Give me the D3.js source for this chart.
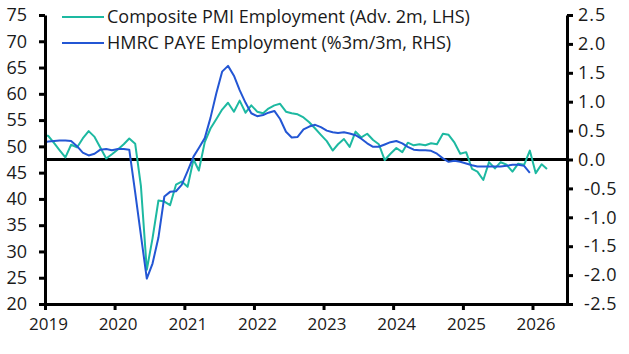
<!DOCTYPE html>
<html>
<head>
<meta charset="utf-8">
<script src="https://cdn.jsdelivr.net/npm/d3@7"></script>
<style>
	body { margin: 0; background: #ffffff; }
	text { font-family: "Open Sans", "Noto Sans", sans-serif; fill: #1a1a1a; }
</style>
</head>
<body>
<div id="chart"></div>
<script>
// UK employment: Composite PMI employment index (LHS) vs HMRC PAYE employees (RHS)

// Both series are monthly; first value is Dec 2018.
var SERIES_START = [2018, 11];

// Composite PMI Employment (Adv. 2m, LHS) - Dec 2018 .. Mar 2026
var pmiValues = [
	52.0,
	52.0, 50.6, 49.3, 47.9, 50.3, 49.8, 51.5, 52.9, 51.8, 49.8, 47.7, 48.5,	// 2019
	49.4, 50.4, 51.5, 50.5, 42.5, 26.5, 32.5, 39.7, 39.5, 38.8, 42.7, 43.3,	// 2020
	42.3, 47.5, 45.4, 50.8, 53.4, 55.2, 57.0, 58.3, 56.6, 58.7, 56.4, 57.8,	// 2021
	56.6, 56.3, 57.2, 57.8, 58.1, 56.6, 56.3, 56.1, 55.5, 54.6, 53.4, 52.2,	// 2022
	51.0, 49.2, 50.4, 51.4, 49.9, 52.8, 51.7, 52.4, 51.2, 50.4, 47.4, 48.6,	// 2023
	49.7, 48.9, 50.7, 50.2, 50.4, 50.2, 50.6, 50.4, 52.4, 52.2, 50.7, 48.6,	// 2024
	48.9, 45.7, 45.2, 43.6, 47.0, 45.8, 47.0, 46.5, 45.2, 46.7, 46.5, 49.2,	// 2025
	44.9, 46.6, 45.7															// 2026
];

// HMRC PAYE Employment (%3m/3m, RHS) - Dec 2018 .. Dec 2025
var payeValues = [
	0.29,
	0.31, 0.32, 0.33, 0.33, 0.32, 0.23, 0.12, 0.07, 0.10, 0.17, 0.18, 0.16,	// 2019
	0.18, 0.18, 0.17, -0.57, -1.31, -2.06, -1.80, -1.35, -0.64, -0.56, -0.55, -0.44,	// 2020
	-0.20, 0.05, 0.20, 0.37, 0.72, 1.15, 1.52, 1.62, 1.45, 1.20, 0.98, 0.80,	// 2021
	0.75, 0.77, 0.81, 0.84, 0.70, 0.48, 0.38, 0.39, 0.52, 0.57, 0.60, 0.56,	// 2022
	0.50, 0.47, 0.46, 0.47, 0.45, 0.42, 0.36, 0.28, 0.22, 0.22, 0.26, 0.30,	// 2023
	0.32, 0.28, 0.22, 0.17, 0.16, 0.16, 0.15, 0.10, 0.02, -0.04, -0.02, -0.04,	// 2024
	-0.07, -0.10, -0.12, -0.12, -0.12, -0.12, -0.12, -0.11, -0.09, -0.09, -0.11, -0.23	// 2025
];

var seriesNames = ["Composite PMI Employment (Adv. 2m, LHS)", "HMRC PAYE Employment (%3m/3m, RHS)"];
var seriesColors = ["#1db9a1", "#2356d4"];

// Tick labels
var xTickYears = [2019, 2020, 2021, 2022, 2023, 2024, 2025, 2026];
var leftTicks = [20, 25, 30, 35, 40, 45, 50, 55, 60, 65, 70, 75];
var rightTicks = [-2.5, -2.0, -1.5, -1.0, -0.5, 0.0, 0.5, 1.0, 1.5, 2.0, 2.5];

var width = 629,
	height = 354;
var plot = { left: 45, right: 567, top: 15, bottom: 304 };

// monthDate: date of the i-th observation (plotted a little past mid-month)
function monthDate(i) {
	return new Date(SERIES_START[0], SERIES_START[1] + i, 18);
}

var svg = d3.select("#chart").append("svg")
	.attr("width", width)
	.attr("height", height);

var x = d3.scaleTime()
	.domain([new Date(2019, 0, 1), new Date(2026, 6, 1)])
	.range([plot.left, plot.right]);
var yLeft = d3.scaleLinear().domain([20, 75]).range([plot.bottom, plot.top]);
var yRight = d3.scaleLinear().domain([-2.5, 2.5]).range([plot.bottom, plot.top]);

svg.append("clipPath").attr("id", "plotClip")
	.append("rect")
	.attr("x", plot.left).attr("y", 0)
	.attr("width", plot.right - plot.left).attr("height", height);

// Zero line of the right hand axis
svg.append("line")
	.attr("x1", plot.left).attr("x2", plot.right)
	.attr("y1", yRight(0)).attr("y2", yRight(0))
	.style("stroke", "#000").style("stroke-width", "3px");

var pmiLine = d3.line()
	.x(function(d, i) { return x(monthDate(i)); })
	.y(function(d) { return yLeft(d); });
var payeLine = d3.line()
	.x(function(d, i) { return x(monthDate(i)); })
	.y(function(d) { return yRight(d); });

var gLines = svg.append("g").attr("clip-path", "url(#plotClip)");
gLines.append("path")
	.attr("d", pmiLine(pmiValues))
	.style("fill", "none")
	.style("stroke", seriesColors[0])
	.style("stroke-width", "2px")
	.style("stroke-linejoin", "round");
gLines.append("path")
	.attr("d", payeLine(payeValues))
	.style("fill", "none")
	.style("stroke", seriesColors[1])
	.style("stroke-width", "2px")
	.style("stroke-linejoin", "round");

// Axes - drawn with d3 axis generators, then restyled
function styleAxis(g) {
	g.select(".domain").style("stroke", "#000").style("stroke-width", "3px");
	g.selectAll(".tick line").style("stroke", "#000").style("stroke-width", "3px");
	g.selectAll(".tick text").style("font-size", "17px").style("fill", "#1a1a1a");
}

var xAxis = d3.axisBottom(x)
	.tickValues(xTickYears.map(function(yr) { return new Date(yr, 0, 1); }))
	.tickFormat(d3.timeFormat("%Y"))
	.tickSizeInner(6).tickSizeOuter(0);
svg.append("g")
	.attr("transform", "translate(0," + plot.bottom + ")")
	.call(xAxis)
	.call(styleAxis)
	.call(function(g) {
		g.selectAll(".tick text").attr("dx", 3).attr("y", 14);
	});

var leftAxis = d3.axisLeft(yLeft)
	.tickValues(leftTicks)
	.tickFormat(d3.format("d"))
	.tickSizeInner(6).tickSizeOuter(0);
svg.append("g")
	.attr("transform", "translate(" + plot.left + ",0)")
	.call(leftAxis)
	.call(styleAxis)
	.call(function(g) {
		g.selectAll(".tick text").attr("x", -18).style("font-size", "18px");
	});

var rightAxis = d3.axisRight(yRight)
	.tickValues(rightTicks)
	.tickFormat(function(d) { return d < 0 ? "-" + d3.format(".1f")(-d) : d3.format(".1f")(d); })
	.tickSizeInner(6).tickSizeOuter(0);
svg.append("g")
	.attr("transform", "translate(" + plot.right + ",0)")
	.call(rightAxis)
	.call(styleAxis)
	.call(function(g) {
		g.selectAll(".tick text")
			.attr("x", function(d) { return d < 0 ? 17 : 11; })
			.style("font-size", "18px")
			.style("letter-spacing", function(d) { return d < 0 ? "0.5px" : "1px"; });
	});

// Legend, top left inside the plot
var legend = svg.append("g").attr("class", "legend");
seriesNames.forEach(function(name, i) {
	var ly = 17 + i * 26;
	legend.append("line")
		.attr("x1", 62).attr("x2", 104)
		.attr("y1", ly).attr("y2", ly)
		.style("stroke", seriesColors[i])
		.style("stroke-width", "2px");
	legend.append("text")
		.attr("x", 107).attr("y", ly)
		.attr("dy", "0.35em")
		.style("font-size", "18px")
		.text(name);
});
</script>
</body>
</html>
